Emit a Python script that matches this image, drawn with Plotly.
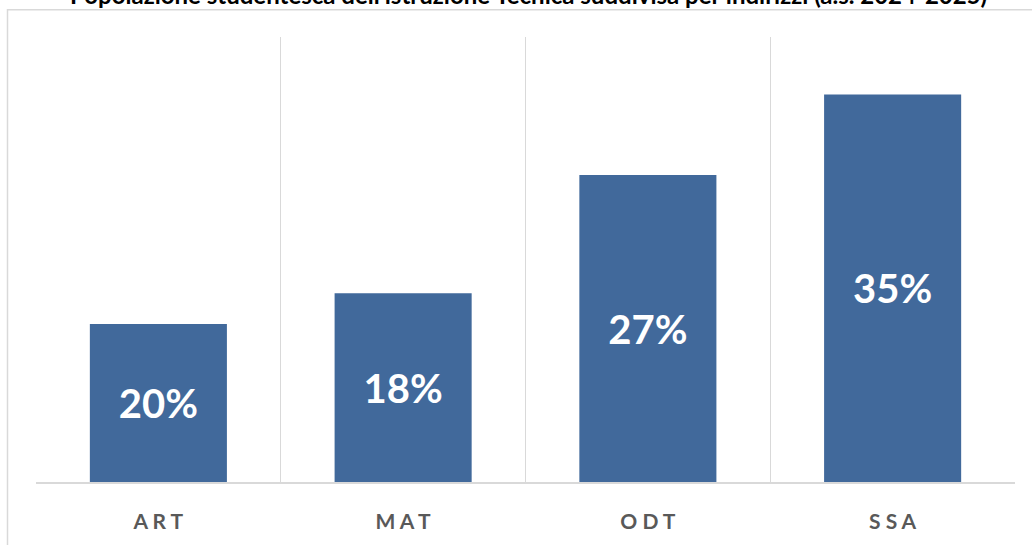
import plotly.graph_objects as go

categories = ["ART", "MAT", "ODT", "SSA"]
bar_heights = [159, 190, 309, 390]
bar_labels = ["20%", "18%", "27%", "35%"]
title_text = "Popolazione studentesca dell'istruzione Tecnica suddivisa per indirizzi (a.s. 2024-2025)"

W, H = 1032, 545
L, R, T, B = 36, 17, 37, 60
pw, ph = W - L - R, H - T - B

def px_x(px):
    return (px - L) / pw

def px_y(py):
    return (H - B - py) / ph

tick_text = [" ".join(c) for c in categories]

fig = go.Figure(go.Bar(
    x=categories,
    y=bar_heights,
    text=bar_labels,
    textposition="inside",
    insidetextanchor="middle",
    constraintext="none",
    textfont=dict(family="Lato", size=40, color="white", weight="bold"),
    marker=dict(color="#41699B", line=dict(width=0)),
    hoverinfo="skip",
))

fig.update_layout(
    width=W, height=H,
    margin=dict(l=L, r=R, t=T, b=B),
    paper_bgcolor="white", plot_bgcolor="white",
    bargap=0.44,
    showlegend=False,
    xaxis=dict(
        tickson="boundaries",
        showgrid=True, gridcolor="#d9d9d9", gridwidth=1,
        showline=True, linecolor="#d9d9d9", linewidth=2,
        ticks="", tickvals=categories, ticktext=tick_text,
        ticklabelstandoff=20,
        tickfont=dict(family="Lato", size=21, color="#595959", weight="bold"),
        zeroline=False,
    ),
    yaxis=dict(range=[0, 448], visible=False, showgrid=False, zeroline=False),
    shapes=[dict(
        type="rect", xref="paper", yref="paper",
        x0=px_x(7.5), x1=px_x(1045), y0=px_y(9.5), y1=px_y(570),
        line=dict(color="#d9d9d9", width=1.5), fillcolor="rgba(0,0,0,0)",
        layer="above",
    )],
    annotations=[dict(
        text=title_text, xref="paper", yref="paper",
        x=px_x(528), y=px_y(-6), xanchor="center", yanchor="middle",
        showarrow=False,
        font=dict(family="Lato", size=24, color="black", weight="bold"),
    )],
)

fig.write_html("out.html", config={"displayModeBar": False},
               post_script="document.body.style.margin='0';")
